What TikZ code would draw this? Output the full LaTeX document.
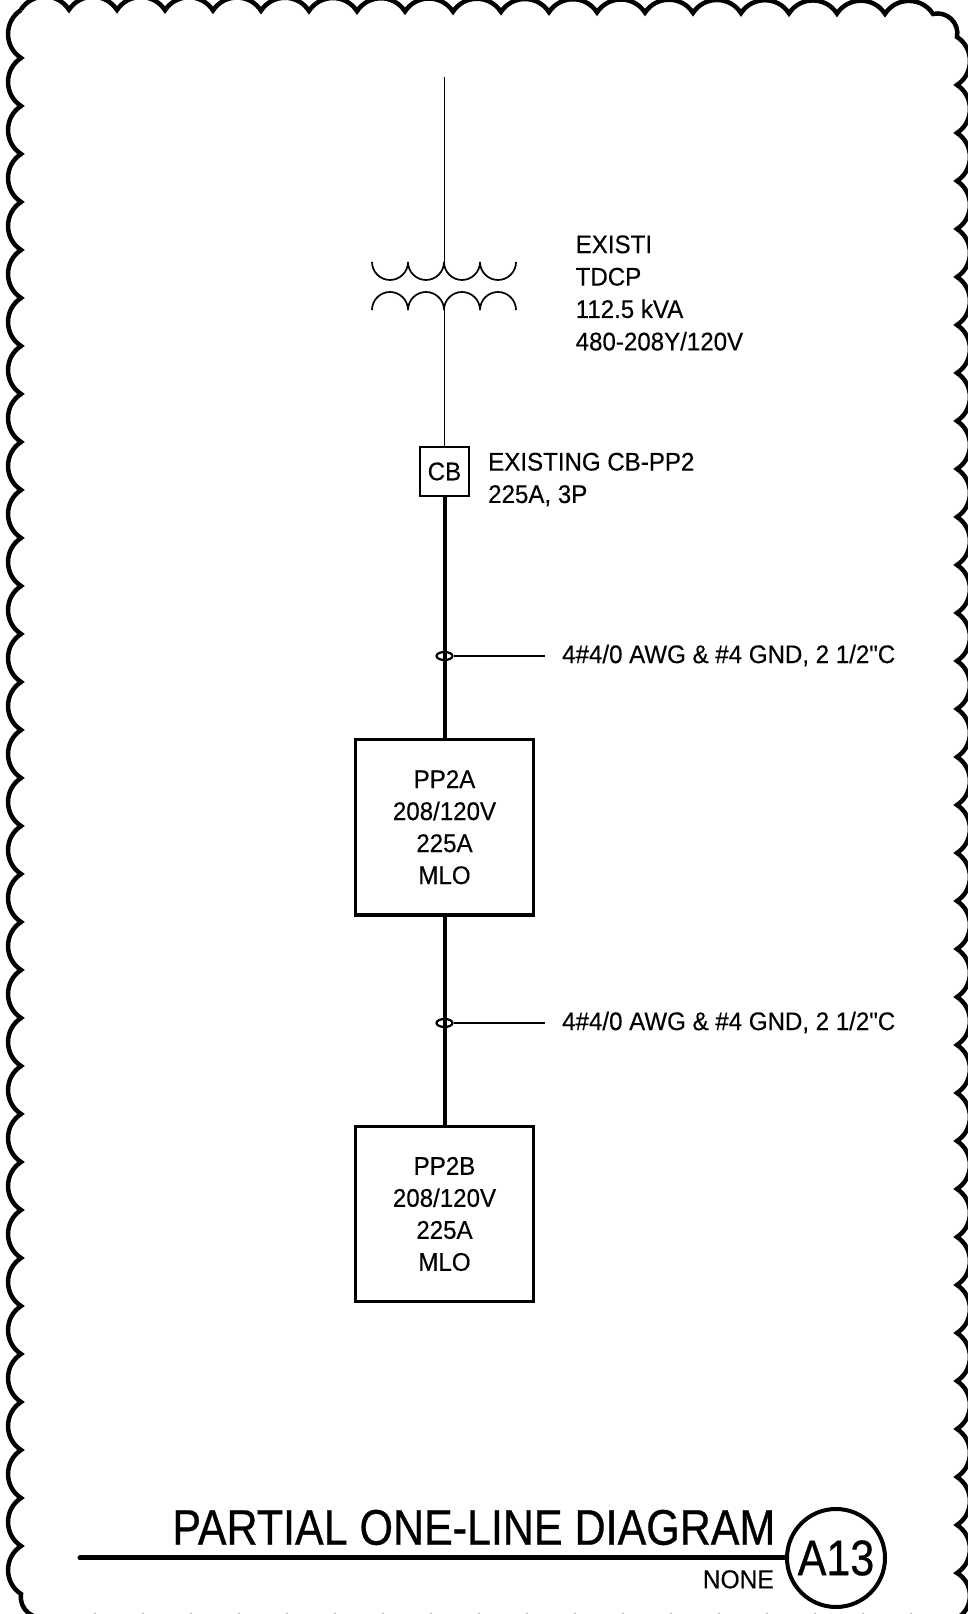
\documentclass[tikz,border=0pt]{standalone}
\usepackage{fontspec}
\newfontfamily\cadfont[FakeStretch=0.945,FakeBold=0.3]{Liberation Sans}
\newfontfamily\labelfont[FakeStretch=0.86,FakeBold=0.6]{Liberation Sans}
\usetikzlibrary{shapes.geometric}
\tikzset{
	scallop/.style={bend right=57, looseness=1.1},
	cloudline/.style={line width=4.5pt},
	thinwire/.style={line width=1.7pt},
	feeder/.style={line width=4pt},
	panel/.style={draw, line width=3.3pt, minimum width=177.5pt, minimum height=175.5pt, align=center, inner sep=0pt, font=\cadfont\fontsize{25.5}{32}\selectfont},
	callout/.style={anchor=west, align=left, inner sep=0pt, font=\cadfont\fontsize{25.5}{32.4}\selectfont},
	tap/.style={draw, ellipse, line width=2.2pt, minimum width=16pt, minimum height=8pt, inner sep=0pt}
}

\begin{document}
\begin{tikzpicture}[x=1pt, y=1pt]
	\useasboundingbox (0,0) rectangle (968,1614);
	\clip (0,0) rectangle (968,1614);

	\draw[cloudline] (21,1604)
		foreach \y in {1556,1508,...,20} { to[scallop] (21,\y) }
		to[scallop] (47,-3)
		foreach \x in {95,143,...,959} { to[scallop] (\x,-3) }
		to[scallop] (957,41)
		foreach \y in {89,137,...,1529} { to[scallop] (957,\y) }
		to[scallop] (957,1577)
		to[scallop] (933,1600)
		foreach \x in {885,837,...,21} { to[scallop] (\x,{1604.5-(\x-21)*0.005}) };

	\coordinate (source) at (444.5,1537);
	\coordinate (primary) at (444.5,1352);
	\coordinate (secondary) at (444.5,1304);

	% transformer windings
	\foreach \x in {372,408,444,480}
		\draw[thinwire] (\x,1352) arc[start angle=180, end angle=360, radius=18];
	\foreach \x in {372,408,444,480}
		\draw[thinwire] (\x,1304) arc[start angle=180, end angle=0, radius=18];

	\node[callout] (xfmr) at (575.5,1321) {EXISTI\\TDCP\\112.5 kVA\\480-208Y/120V};

	\node[draw, line width=1.7pt, minimum size=49pt, inner sep=0pt, font=\cadfont\fontsize{25.5}{30}\selectfont] (cb) at (444.5,1142.5) {CB};
	\node[callout] (cblabel) at (488,1134.5) {EXISTING CB-PP2\\225A, 3P};

	\node[panel] (ppa) at (444.5,786.75) {PP2A\\208/120V\\225A\\MLO};
	\node[panel] (ppb) at (444.5,400) {PP2B\\208/120V\\225A\\MLO};

	\draw[thinwire] (source) -- (primary);
	\draw[thinwire] (secondary) -- (cb.north);
	\draw[feeder] (cb.south) -- (ppa.north);
	\draw[feeder] (ppa.south) -- (ppb.north);

	\node[tap] (tapa) at (444.5,958) {};
	\node[tap] (tapb) at (444.5,591) {};
	\coordinate (leada) at (545,958);
	\coordinate (leadb) at (545,591);
	\draw[line width=2.2pt] (tapa.east) -- (leada);
	\draw[line width=2.2pt] (tapb.east) -- (leadb);
	\node[callout] (cablea) at (562,958.5) {4\#4/0 AWG \& \#4 GND, 2 1/2"C};
	\node[callout] (cableb) at (562,591.5) {4\#4/0 AWG \& \#4 GND, 2 1/2"C};

	% title block
	\node[draw, circle, line width=4pt, minimum size=98pt, inner sep=0pt, font=\labelfont\fontsize{50}{50}\selectfont] (sheet) at (836,56) {A13};
	\coordinate (titleend) at (80,56);
	\draw[line width=5pt, line cap=round] (titleend) -- (sheet.west);
	\node[anchor=base east, inner sep=0pt, font=\labelfont\fontsize{50}{50}\selectfont] (title) at (775.5,69.3) {PARTIAL ONE-LINE DIAGRAM};
	\node[anchor=base east, inner sep=0pt, font=\cadfont\fontsize{26}{26}\selectfont] (scale) at (774,25.7) {NONE};
\end{tikzpicture}
\end{document}
